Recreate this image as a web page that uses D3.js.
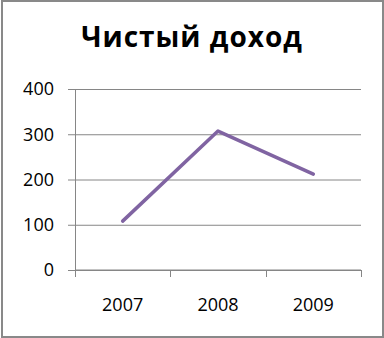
<!DOCTYPE html>
<html>
<head>
<meta charset="utf-8">
<script src="https://cdn.jsdelivr.net/npm/d3@7"></script>
<style>
  html, body { margin: 0; padding: 0; background: #fff; }
  svg { display: block; }
</style>
</head>
<body>
<div class="chart"></div>
<script>
const years = ["2007", "2008", "2009"];
const netIncome = [108, 307, 212];
const yTicks = [0, 100, 200, 300, 400];
const title = "Чистый доход";

const width = 384;
const height = 338;
const margin = { top: 89, right: 23, bottom: 68, left: 75 };
const plotWidth = width - margin.left - margin.right;
const plotHeight = height - margin.top - margin.bottom;
const font = "Open Sans, sans-serif";

const svg = d3
  .select(".chart")
  .append("svg")
  .attr("width", width)
  .attr("height", height);

svg
  .append("rect")
  .attr("x", 2)
  .attr("y", 1)
  .attr("width", width - 3)
  .attr("height", height - 2)
  .attr("fill", "#fff")
  .attr("stroke", "#898989")
  .attr("stroke-width", 2);

svg
  .append("text")
  .attr("x", 192)
  .attr("y", 47)
  .attr("text-anchor", "middle")
  .style("font-family", font)
  .style("font-size", "28px")
  .style("font-weight", "700")
  .style("letter-spacing", "1px")
  .text(title);

const chart = svg
  .append("g")
  .attr("transform", `translate(${margin.left},${margin.top})`);

const x = d3.scaleBand().domain(years).range([0, plotWidth]);
const y = d3.scaleLinear().domain([0, 400]).range([plotHeight, 0]);

// horizontal gridlines + y ticks
chart
  .append("g")
  .call(d3.axisLeft(y).tickValues(yTicks).tickSize(-plotWidth))
  .call((g) => g.select(".domain").remove())
  .call((g) => g.selectAll("line").attr("stroke", "#868686").attr("x1", -7))
  .call((g) =>
    g.selectAll("text")
      .style("font-family", font)
      .style("font-size", "18px")
      .attr("fill", "#000")
      .attr("x", -21)
  );

// vertical axis line
chart
  .append("line")
  .attr("x1", 0.5)
  .attr("x2", 0.5)
  .attr("y1", 0)
  .attr("y2", plotHeight)
  .attr("stroke", "#868686");

// x axis with ticks between categories
const xAxis = chart
  .append("g")
  .attr("transform", `translate(0,${plotHeight})`);

xAxis
  .append("line")
  .attr("x1", 0)
  .attr("x2", plotWidth)
  .attr("stroke", "#868686");

xAxis
  .selectAll(".tick-mark")
  .data(d3.range(years.length + 1))
  .join("line")
  .attr("class", "tick-mark")
  .attr("x1", (i) => Math.round(i * x.step()) + 0.5)
  .attr("x2", (i) => Math.round(i * x.step()) + 0.5)
  .attr("y1", 0)
  .attr("y2", 7)
  .attr("stroke", "#868686");

xAxis
  .selectAll(".year")
  .data(years)
  .join("text")
  .attr("class", "year")
  .attr("x", (d) => x(d) + x.bandwidth() / 2)
  .attr("y", 41)
  .attr("text-anchor", "middle")
  .style("font-family", font)
  .style("font-size", "18px")
  .text((d) => d);

const line = d3
  .line()
  .x((d, i) => x(years[i]) + x.bandwidth() / 2)
  .y((d) => y(d));

chart
  .append("path")
  .datum(netIncome)
  .attr("d", line)
  .attr("fill", "none")
  .attr("stroke", "#8064a2")
  .attr("stroke-width", 3.5)
  .attr("stroke-linecap", "round")
  .attr("stroke-linejoin", "round");
</script>
</body>
</html>
